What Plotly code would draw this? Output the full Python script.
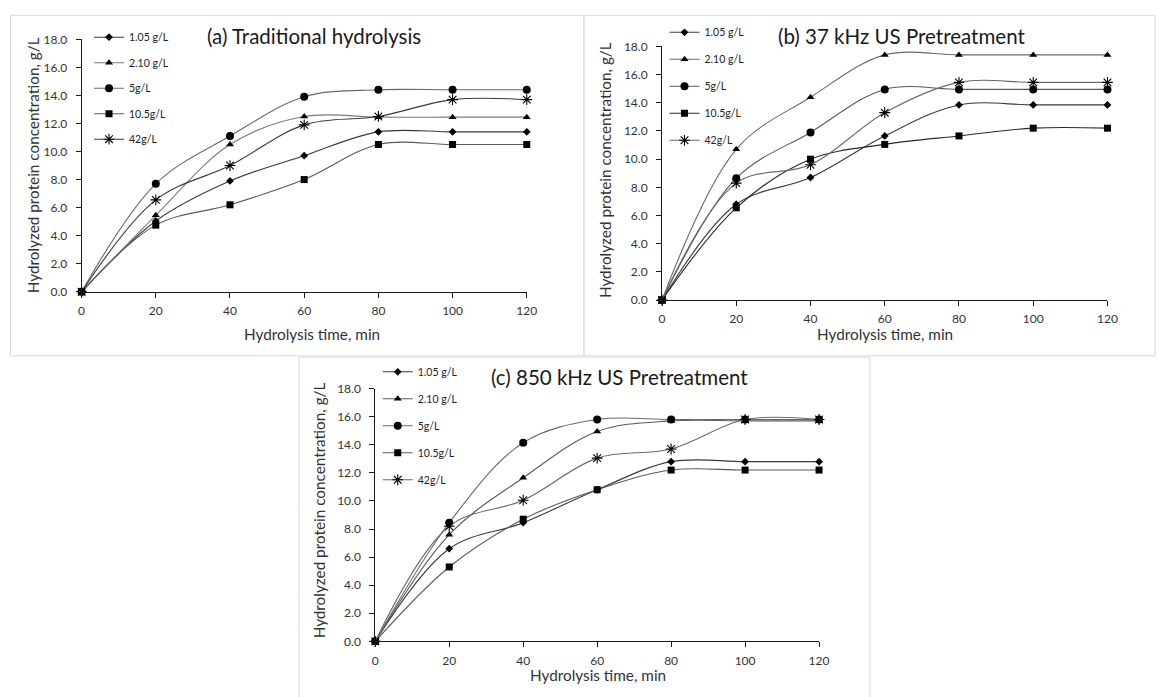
import plotly.graph_objects as go

W, H = 1159, 697

time_min = [0, 20, 40, 60, 80, 100, 120]
series_names = ["1.05 g/L", "2.10 g/L", "5g/L", "10.5g/L", "42g/L"]

# (a) Traditional hydrolysis
trad_1_05 = [0, 5.05, 7.9, 9.7, 11.4, 11.4, 11.4]
trad_2_10 = [0, 5.45, 10.5, 12.5, 12.45, 12.45, 12.45]
trad_5 = [0, 7.7, 11.1, 13.9, 14.4, 14.4, 14.4]
trad_10_5 = [0, 4.75, 6.2, 8.0, 10.5, 10.5, 10.5]
trad_42 = [0, 6.55, 9.0, 11.9, 12.5, 13.7, 13.7]

# (b) 37 kHz US pretreatment
us37_1_05 = [0, 6.8, 8.7, 11.65, 13.85, 13.85, 13.85]
us37_2_10 = [0, 10.7, 14.4, 17.4, 17.4, 17.4, 17.4]
us37_5 = [0, 8.65, 11.9, 14.95, 14.95, 14.95, 14.95]
us37_10_5 = [0, 6.55, 10.0, 11.05, 11.65, 12.2, 12.2]
us37_42 = [0, 8.3, 9.6, 13.3, 15.45, 15.45, 15.45]

# (c) 850 kHz US pretreatment
us850_1_05 = [0, 6.6, 8.45, 10.8, 12.8, 12.8, 12.8]
us850_2_10 = [0, 7.6, 11.65, 14.95, 15.7, 15.7, 15.7]
us850_5 = [0, 8.45, 14.15, 15.8, 15.8, 15.8, 15.8]
us850_10_5 = [0, 5.3, 8.7, 10.8, 12.2, 12.2, 12.2]
us850_42 = [0, 8.2, 10.05, 13.05, 13.7, 15.8, 15.8]

panel_titles = ["(a) Traditional hydrolysis", "(b) 37 kHz US Pretreatment",
                "(c) 850 kHz US Pretreatment"]
x_title = "Hydrolysis time, min"
y_title = "Hydrolyzed protein concentration, g/L"

panels_data = [
    [trad_1_05, trad_2_10, trad_5, trad_10_5, trad_42],
    [us37_1_05, us37_2_10, us37_5, us37_10_5, us37_42],
    [us850_1_05, us850_2_10, us850_5, us850_10_5, us850_42],
]

symbols = ["diamond", "triangle-up", "circle", "square", "asterisk-open"]
msizes = [6, 7, 8, 7, 9]
line_colors = [
    ["#3a3a3a", "#7a7a7a", "#6a6a6a", "#5a5a5a", "#3a3a3a"],
    ["#3a3a3a", "#6a6a6a", "#5a5a5a", "#2a2a2a", "#6a6a6a"],
    ["#3a3a3a", "#5a5a5a", "#6a6a6a", "#5a5a5a", "#6a6a6a"],
]

# pixel geometry (x0, x120, y0, y18) of each plot area
geom = [
    (79.5, 529.7, 290.0, 32.0),
    (666.5, 1117.0, 298.5, 39.3),
    (376.5, 825.3, 647.3, 389.0),
]
legend_pos = [(87, 15, 6.5), (669, 10, 8), (379, 357, 8)]
title_pos = [(315, 29), (909, 28.5), (623, 377)]
xtitle_pos = [(312, 333), (892, 333), (602, 682)]
ytitle_pos = [(30, 161), (609.5, 166), (320, 513)]

FONT = "Lato"
fig = go.Figure()

for p in range(3):
    ax = "" if p == 0 else str(p + 1)
    lg = "legend" if p == 0 else "legend" + str(p + 1)
    for i, name in enumerate(series_names):
        fig.add_trace(go.Scatter(
            x=time_min, y=panels_data[p][i], name=name,
            mode="lines+markers",
            line=dict(shape="spline", smoothing=1.0, color=line_colors[p][i], width=1.1),
            marker=dict(symbol=symbols[i], size=msizes[i], color="#000000",
                        line=dict(color="#000000", width=1.1 if i == 4 else 0)),
            xaxis="x" + ax, yaxis="y" + ax,
            legend=lg, legendgroup=f"p{p}s{i}", cliponaxis=False,
        ))

layout = dict(
    width=W, height=H, margin=dict(l=0, r=0, t=0, b=0),
    paper_bgcolor="white", plot_bgcolor="white",
    font=dict(family=FONT, color="#333333"),
    showlegend=True,
)
shapes = []
annotations = []
for p in range(3):
    ax = "" if p == 0 else str(p + 1)
    x0, x1, y0, y1 = geom[p]
    common = dict(showline=True, linecolor="#1a1a1a", linewidth=1, ticks="outside",
                  ticklen=5, tickcolor="#1a1a1a", tickwidth=1, showgrid=False,
                  zeroline=False, tickfont=dict(family=FONT, size=12, color="#333333"))
    layout["xaxis" + ax] = dict(domain=[x0 / W, x1 / W], range=[0, 120], dtick=20,
                                tick0=0, anchor="y" + ax, ticklabelstandoff=3, **common)
    layout["yaxis" + ax] = dict(domain=[1 - y0 / H, 1 - y1 / H], range=[0, 18], dtick=2,
                                tick0=0, tickformat=".1f", anchor="x" + ax,
                                ticklabelstandoff=6, **common)
    lx, ly, gap = legend_pos[p]
    layout["legend" if p == 0 else "legend" + str(p + 1)] = dict(
        x=lx / W, y=1 - ly / H, xanchor="left", yanchor="top",
        bgcolor="rgba(0,0,0,0)", traceorder="grouped", tracegroupgap=gap,
        font=dict(family=FONT, size=10.5, color="#222222"), borderwidth=0)
    tx, ty = title_pos[p]
    annotations.append(dict(text=panel_titles[p], x=tx / W, y=1 - ty / H, xref="paper",
                            yref="paper", showarrow=False, xanchor="center", yanchor="middle",
                            font=dict(family=FONT, size=20.5, color="#1a1a1a")))
    tx, ty = xtitle_pos[p]
    annotations.append(dict(text=x_title, x=tx / W, y=1 - ty / H, xref="paper",
                            yref="paper", showarrow=False, xanchor="center", yanchor="middle",
                            font=dict(family=FONT, size=15.3, color="#333333")))
    tx, ty = ytitle_pos[p]
    annotations.append(dict(text=y_title, x=tx / W, y=1 - ty / H, xref="paper",
                            yref="paper", showarrow=False, xanchor="center", yanchor="middle",
                            textangle=-90,
                            font=dict(family=FONT, size=15.3, color="#333333")))

frames = [(7.5, 7.5, 587.5, 355.5), (587.5, 7.5, 1165, 355.5), (299.5, 356.7, 876.7, 705)]
for (fx0, fy0, fx1, fy1) in frames:
    shapes.append(dict(type="rect", xref="paper", yref="paper",
                       x0=fx0 / W, x1=fx1 / W, y0=1 - fy0 / H, y1=1 - fy1 / H,
                       line=dict(color="#d9d9d9", width=1), layer="below"))

layout["shapes"] = shapes
layout["annotations"] = annotations
fig.update_layout(**layout)
fig.write_html("out.html")
